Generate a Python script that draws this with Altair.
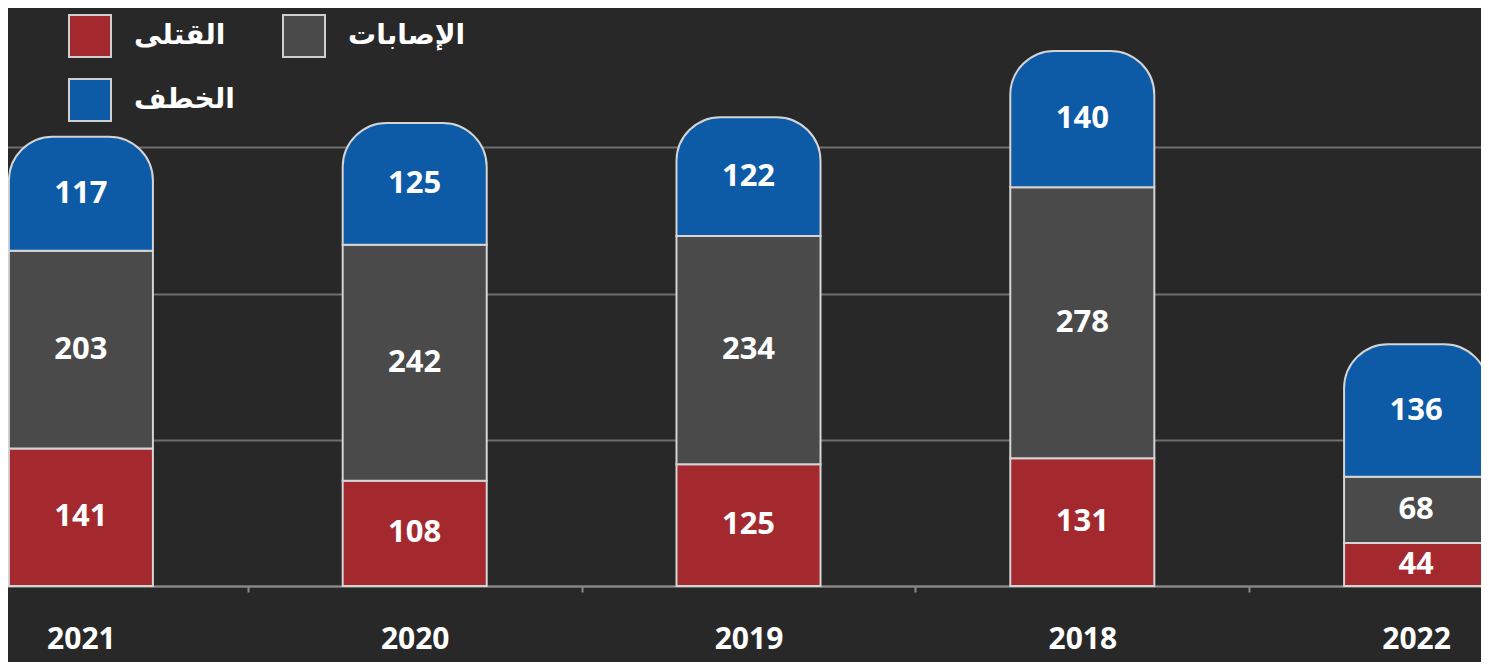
import altair as alt
import pandas as pd

years = ["2021", "2020", "2019", "2018", "2022"]
categories = ["القتلى", "الإصابات", "الخطف"]
killed = [141, 108, 125, 131, 44]
injured = [203, 242, 234, 278, 68]
kidnapped = [117, 125, 122, 140, 136]
colors = ["#a3292f", "#4a4a4a", "#0d5aa6"]
grid_values = [0, 150, 300, 450]

rows = []
for i, yr in enumerate(years):
    start = 0
    for cat, vals in zip(categories, [killed, injured, kidnapped]):
        v = vals[i]
        rows.append(dict(year=yr, cat=cat, value=v, start=start, end=start + v,
                         mid=start + v / 2, top=(cat == categories[-1])))
        start += v
df = pd.DataFrame(rows)

xscale = alt.Scale(domain=years, range=[-94, 1575], paddingInner=0, paddingOuter=0, round=False)
yscale = alt.Scale(domain=[0, 593])
cscale = alt.Scale(domain=categories, range=colors)
bar_w = alt.RelativeBandSize(0.4315)

x_enc = alt.X("year:N", sort=years, scale=xscale,
              axis=alt.Axis(title=None, tickBand="extent", labelAngle=0, labelColor="white",
                            labelFontSize=30, labelFont="Open Sans", labelFontWeight="bold",
                            labelPadding=32, tickSize=6, tickColor="#8a8a8a", tickWidth=2,
                            domainColor="#8a8a8a", domainWidth=2, grid=False))
y_enc = alt.Y("start:Q", scale=yscale,
              axis=alt.Axis(values=grid_values, labels=False, ticks=False, domain=False,
                            title=None, grid=True, gridColor="#6e6e6e", gridWidth=2))

base = alt.Chart(df)

bars = base.transform_filter("!datum.top").mark_bar(
    stroke="#d4d4d4", strokeWidth=2, width=bar_w
).encode(
    x=x_enc, y=y_enc, y2="end:Q",
    color=alt.Color("cat:N", scale=cscale,
                    legend=alt.Legend(title=None, orient="none", legendX=60, legendY=6, columns=2,
                                      direction="horizontal",
                                      symbolType="square", symbolSize=1764,
                                      symbolStrokeColor="#cfcfcf", symbolStrokeWidth=2,
                                      symbolOpacity=1, labelColor="white", labelFontSize=28,
                                      labelFont="DejaVu Sans", labelFontWeight="bold",
                                      labelOffset=22, rowPadding=14, columnPadding=44,
                                      padding=0, labelLimit=300)),
)

tops = base.transform_filter("datum.top").mark_bar(
    stroke="#d4d4d4", strokeWidth=2, width=bar_w,
    cornerRadiusTopLeft=44, cornerRadiusTopRight=44
).encode(
    x=alt.X("year:N", sort=years, scale=xscale),
    y=alt.Y("start:Q", scale=yscale),
    y2="end:Q",
    color=alt.Color("cat:N", scale=cscale, legend=None),
)

labels = base.mark_text(font="Open Sans", fontSize=31, fontWeight="bold", color="white",
                        baseline="middle", align="center").encode(
    x=alt.X("year:N", sort=years, scale=xscale),
    y=alt.Y("mid:Q", scale=yscale),
    text=alt.Text("value:Q"),
)

chart = alt.layer(bars, tops, labels).properties(
    width=1473, height=578,
    padding={"left": 0, "top": 0, "right": 0, "bottom": 76},
    autosize=alt.AutoSizeParams(type="none"),
).configure(background="#282828").configure_view(stroke=None)

chart.save("out.html", embed_options={"renderer": "svg", "actions": False})
